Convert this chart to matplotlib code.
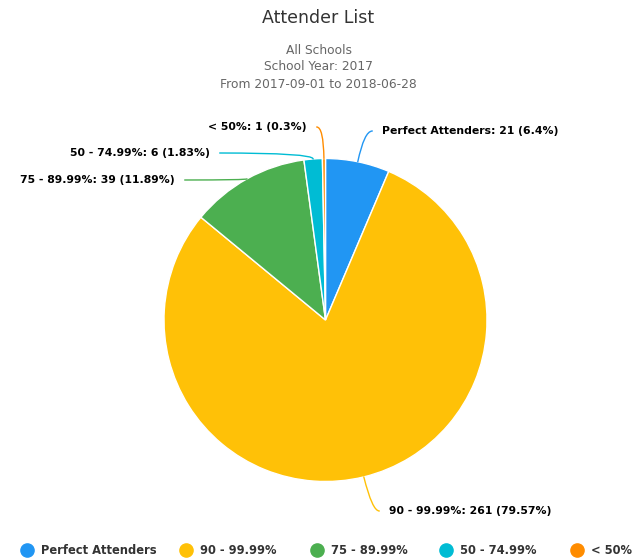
import matplotlib.pyplot as plt
import numpy as np
from matplotlib.lines import Line2D

# data
categories = ['Perfect Attenders', '90 - 99.99%', '75 - 89.99%', '50 - 74.99%', '< 50%']
counts = [21, 261, 39, 6, 1]
percents = ['6.4', '79.57', '11.89', '1.83', '0.3']
colors = ['#2196F3', '#FFC107', '#4CAF50', '#00BCD4', '#FF8C00']

plt.rcParams['font.family'] = ['DejaVu Sans']

W, H = 637, 560
fig = plt.figure(figsize=(W / 100, H / 100), dpi=100)

# pie placed in pixels: centre (325.5, 320), radius 161.5
cx, cy, r = 325.5, 320, 161.5
ax = fig.add_axes([(cx - r) / W, (H - cy - r) / H, 2 * r / W, 2 * r / H])
wedges, _ = ax.pie(counts, colors=colors, startangle=90, counterclock=False,
                   radius=1, wedgeprops=dict(edgecolor='white', linewidth=1))
ax.set_xlim(-1, 1)
ax.set_ylim(-1, 1)
ax.axis('off')

# label positions (pixel coords of text anchor) and alignment
label_pos = [(382, 131, 'left'), (389, 511, 'left'), (175, 180, 'right'),
             (210, 153, 'right'), (307, 127, 'right')]

for w, cat, n, p, col, (px, py, ha) in zip(wedges, categories, counts, percents,
                                           colors, label_pos):
    ang = np.deg2rad((w.theta1 + w.theta2) / 2)
    x0, y0 = np.cos(ang), np.sin(ang)
    tx, ty = (px - cx) / r, (cy - py) / r
    gap = 0.06 if ha == 'left' else -0.06
    ax.annotate(f'{cat}: {n} ({p}%)', xy=(x0, y0), xytext=(tx, ty),
                ha=ha, va='center', fontsize=7.8, fontweight='bold', color='black',
                annotation_clip=False)
    ax.annotate('', xy=(x0, y0), xytext=(tx - gap, ty), annotation_clip=False,
                arrowprops=dict(arrowstyle='-', color=col, lw=1,
                                shrinkA=0, shrinkB=0,
                                connectionstyle=f'angle3,angleA=0,angleB={np.rad2deg(ang):.0f}'))

fig.text(0.5, 1 - 18 / H, 'Attender List', ha='center', va='center', fontsize=12.5, color='#333333')
fig.text(0.5, 1 - 51 / H, 'All Schools', ha='center', va='center', fontsize=8.8, color='#666666')
fig.text(0.5, 1 - 67 / H, 'School Year: 2017', ha='center', va='center', fontsize=8.8, color='#666666')
fig.text(0.5, 1 - 84 / H, 'From 2017-09-01 to 2018-06-28', ha='center', va='center', fontsize=8.8, color='#666666')

# legend along the bottom
legend_x = [27, 186, 317, 446, 577]
ly = 1 - 550 / H
for c, cat, lx in zip(colors, categories, legend_x):
    fig.add_artist(Line2D([lx / W], [ly], marker='o', markersize=9.5, color=c,
                          linestyle='', transform=fig.transFigure))
    fig.text((lx + 14) / W, ly, cat, ha='left', va='center', fontsize=8.3,
             fontweight='bold', color='#333333')

fig.savefig('out.png', dpi=100)
